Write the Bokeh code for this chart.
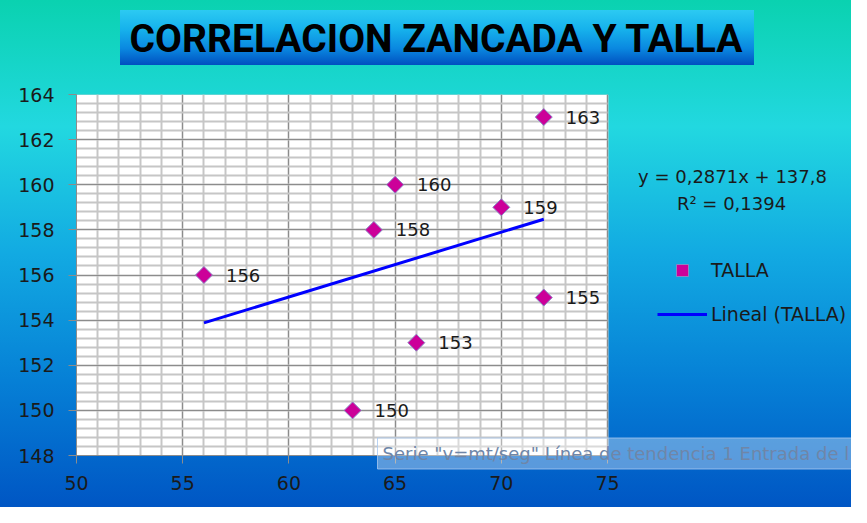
import numpy as np
from bokeh.plotting import figure
from bokeh.models import (ColumnDataSource, SingleIntervalTicker, Legend, LegendItem,
                          Range1d, Label, BoxAnnotation)
from bokeh.core.properties import value
from bokeh.embed import file_html
from bokeh.resources import INLINE

# ---- data ----
zancada = [56, 63, 64, 65, 66, 70, 72, 72]
talla = [156, 150, 158, 160, 153, 159, 163, 155]
slope = 0.2871
intercept = 137.8
r2 = 0.1394
x_min, x_max = 50, 75
y_min, y_max = 148, 164
title_text = "CORRELACION ZANCADA Y TALLA"
series_name = "TALLA"
trend_name = "Lineal (TALLA)"
tooltip_text = 'Serie "v=mt/seg" Línea de tendencia 1 Entrada de l'

FONT = "DejaVu Sans"
TXT = "#1a1a1a"

# layout (pixels)
W, H = 851, 507
LEFT, TOP, BOTTOM = 76, 94, 52
PLOT_W = 531                     # width of the white plot area
px_per_x = PLOT_W / (x_max - x_min)
x_view_end = x_max + (W - LEFT - PLOT_W) / px_per_x   # frame extends under legend area

p = figure(width=W, height=H, x_range=Range1d(x_min, x_view_end), y_range=Range1d(y_min, y_max),
           output_backend="svg", toolbar_location=None,
           min_border_left=LEFT, min_border_right=0, min_border_top=TOP, min_border_bottom=BOTTOM,
           background_fill_color=None, border_fill_color=None, outline_line_color=None)

page_grad = "linear-gradient(to bottom, #0ad2b0 0%, #22d8e0 25%, #12aae2 50%, #0680d6 75%, #0056c4 100%)"
title_grad = "linear-gradient(to bottom, #2ccaf2 0%, #16b2ec 35%, #0a88e0 70%, #0050c0 100%)"
p.styles = {"background": f"{title_grad} 120px 10px / 634px 55px no-repeat, {page_grad}"}

# white plot area
p.add_layout(BoxAnnotation(left=x_min, right=x_max, bottom=y_min, top=y_max,
                           fill_color="white", fill_alpha=1.0,
                           line_color="#9a9a9a", line_width=1, level="image"))

p.xaxis.ticker = SingleIntervalTicker(interval=5, num_minor_ticks=5)
p.yaxis.ticker = SingleIntervalTicker(interval=2, num_minor_ticks=5)
p.xaxis.bounds = (x_min, x_max)

for ax in (p.xaxis, p.yaxis):
    ax.axis_line_color = "#8c8c8c"
    ax.major_tick_line_color = "#8c8c8c"
    ax.major_tick_out = 8
    ax.major_tick_in = 0
    ax.minor_tick_out = 0
    ax.minor_tick_in = 0
    ax.major_label_text_font = FONT
    ax.major_label_text_font_size = "19px"
    ax.major_label_text_color = TXT
p.xaxis.major_label_standoff = 12
p.yaxis.major_label_standoff = 14

for g in (p.xgrid, p.ygrid):
    g.grid_line_color = "#8c8c8c"
    g.grid_line_width = 1
    g.minor_grid_line_color = "#c6c6c6"
    g.minor_grid_line_width = 2
p.xgrid.bounds = (x_min, x_max)
p.ygrid.cross_bounds = (x_min, x_max)

# trend line from slope/intercept over the data span
tx = np.array([min(zancada), max(zancada)], dtype=float)
ty = slope * tx + intercept
r_line = p.line(tx, ty, line_color="#0000ff", line_width=3)

src = ColumnDataSource(dict(x=zancada, y=talla, lab=[str(t) for t in talla]))
r_sc = p.scatter("x", "y", source=src, marker="square", angle=np.pi / 4, size=12,
                 fill_color="#cc0099", line_color="#8a86c4", line_width=1)
p.text("x", "y", text="lab", source=src, x_offset=22, text_baseline="middle",
       text_font=value(FONT), text_font_size="18px", text_color=TXT)

legend = Legend(items=[LegendItem(label=series_name, renderers=[r_sc]),
                       LegendItem(label=trend_name, renderers=[r_line])],
                location=(581, 126), glyph_width=50, glyph_height=30, label_height=20,
                spacing=14, padding=0, margin=0, label_standoff=4,
                border_line_color=None, background_fill_alpha=0,
                label_text_font=FONT, label_text_font_size="19px", label_text_color=TXT)
p.add_layout(legend)

eq = f"y = {slope:.4f}x + {intercept:.1f}".replace(".", ",")
rr = f"R² = {r2:.4f}".replace(".", ",")
p.add_layout(Label(x=656, y=279, x_units="screen", y_units="screen", text=eq,
                   text_align="center", text_baseline="middle", text_font=FONT,
                   text_font_size="18px", text_color=TXT))
p.add_layout(Label(x=655, y=252, x_units="screen", y_units="screen", text=rr,
                   text_align="center", text_baseline="middle", text_font=FONT,
                   text_font_size="18px", text_color=TXT))

# title (above the plot area) and the screenshot tooltip, as overlay text
p.text(x=[x_min], y=[y_max], text=[title_text], x_offset=360, y_offset=-56,
       text_align="center", text_baseline="middle", text_font=value("Roboto"),
       text_font_style="bold", text_font_size="39px", text_color="#000000", level="overlay")

p.text(x=[x_min], y=[y_min], text=[tooltip_text], x_offset=301, y_offset=-2,
       text_align="left", text_baseline="middle", text_font=value(FONT),
       text_font_size="18px", text_color="#6f86a8", level="overlay",
       background_fill_color="white", background_fill_alpha=0.35,
       border_line_color="#a8c8f0", border_line_alpha=0.8, padding=5)

open("out.html", "w").write(file_html(p, INLINE))
